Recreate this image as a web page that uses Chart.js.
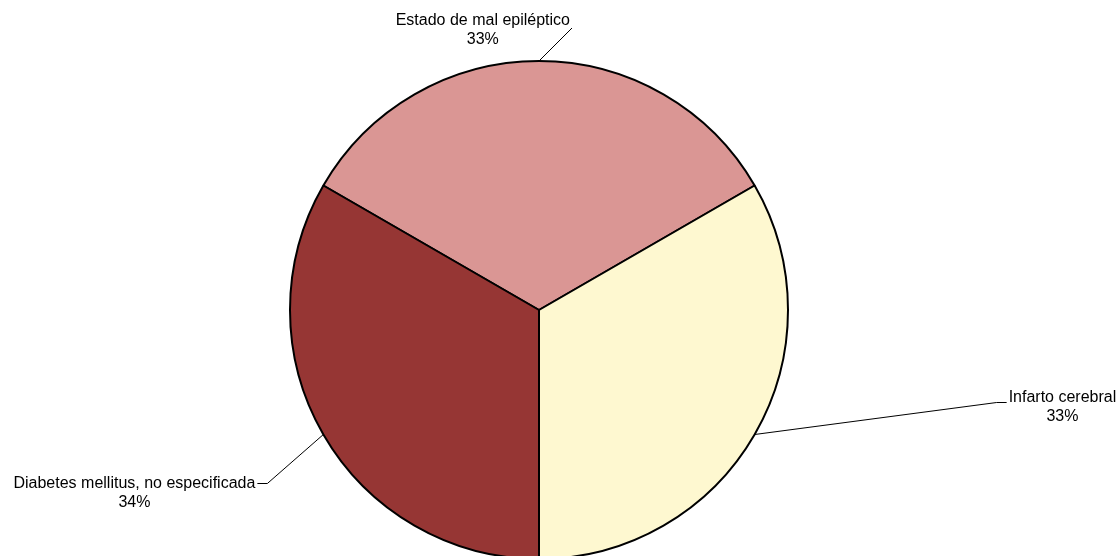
<!DOCTYPE html>
<html>
<head>
<meta charset="utf-8">
<script src="https://cdn.jsdelivr.net/npm/chart.js@4/dist/chart.umd.min.js"></script>
<style>
  html, body { margin: 0; padding: 0; background: #fff; overflow: hidden; }
  #wrap { width: 1120px; height: 600px; position: relative; }
</style>
</head>
<body>
<div id="wrap"><canvas id="pieChart"></canvas></div>
<script>
const categories = ['Estado de mal epiléptico', 'Infarto cerebral', 'Diabetes mellitus, no especificada'];
const values = [1, 1, 1];
const percentLabels = ['33%', '33%', '34%'];
const sliceColors = ['#DA9694', '#FEF8D0', '#963634'];

// leader line layout for each label (elbow offset from slice edge, tail, text offset)
const labelLayout = [
    { dx: 33, dy: -33, tail: 0, side: 'left', textDy: -7 },
    { dx: 242, dy: -32, tail: 10, side: 'right', textDy: -5 },
    { dx: -56, dy: 49, tail: -10, side: 'left', textDy: 0 }
];

const leaderLabels = {
    id: 'leaderLabels',
    afterDraw(chart) {
        const ctx = chart.ctx;
        const meta = chart.getDatasetMeta(0);
        ctx.save();
        ctx.font = '16px "Liberation Sans", Arial, sans-serif';
        ctx.fillStyle = '#000';
        ctx.strokeStyle = '#000';
        ctx.lineWidth = 1;
        ctx.textBaseline = 'middle';
        meta.data.forEach((arc, i) => {
            const p = arc.getProps(['x', 'y', 'startAngle', 'endAngle', 'outerRadius'], true);
            const mid = (p.startAngle + p.endAngle) / 2;
            const ex = p.x + Math.cos(mid) * p.outerRadius;
            const ey = p.y + Math.sin(mid) * p.outerRadius;
            const lay = labelLayout[i];
            const bx = ex + lay.dx;
            const by = ey + lay.dy;
            const tx = bx + lay.tail;

            ctx.beginPath();
            ctx.moveTo(ex, ey);
            ctx.lineTo(bx, by);
            ctx.lineTo(tx, by);
            ctx.stroke();

            const w = ctx.measureText(categories[i]).width;
            let cx;
            if (lay.side === 'left') {
                cx = tx - 2 - w / 2;
            } else {
                cx = tx + 2 + w / 2;
            }
            ctx.textAlign = 'center';
            ctx.fillText(categories[i], cx, by + lay.textDy);
            ctx.fillText(percentLabels[i], cx, by + lay.textDy + 19);
        });
        ctx.restore();
    }
};

const ctxPie = document.getElementById('pieChart').getContext('2d');
const pieChart = new Chart(ctxPie, {
    type: 'pie',
    data: {
        labels: categories,
        datasets: [{
            data: values,
            backgroundColor: sliceColors,
            borderColor: '#000',
            borderWidth: 2
        }]
    },
    options: {
        responsive: true,
        maintainAspectRatio: false,
        animation: false,
        rotation: -60,
        layout: {
            padding: { top: 60, bottom: 40, left: 0, right: 42 }
        },
        plugins: {
            legend: { display: false },
            tooltip: { enabled: false }
        }
    },
    plugins: [leaderLabels]
});
</script>
</body>
</html>
